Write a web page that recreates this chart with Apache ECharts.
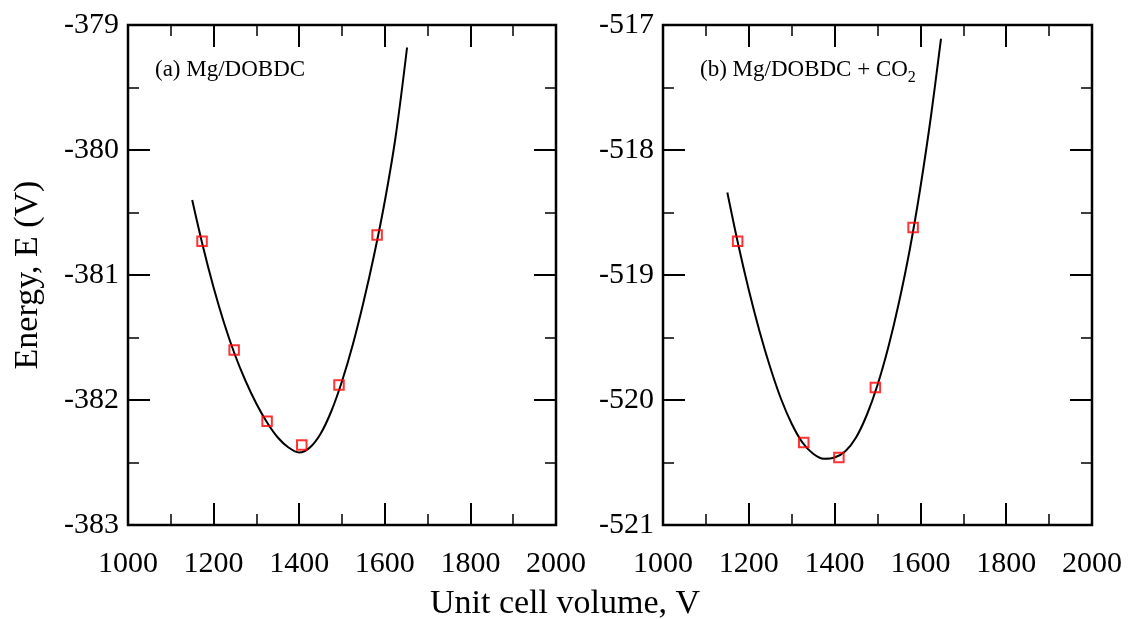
<!DOCTYPE html>
<html>
<head>
<meta charset="utf-8">
<script src="https://cdn.jsdelivr.net/npm/echarts@6/dist/echarts.min.js"></script>
<style>
html,body{margin:0;padding:0;background:#fff;}
#chart{width:1129px;height:619px;}
</style>
</head>
<body>
<div id="chart"></div>
<script>
// ---- data ----
const xTicks = [1000, 2000, 200];          // min, max, interval (volume)
const yTicksA = [-383, -379, 1];           // min, max, interval (panel a)
const yTicksB = [-521, -517, 1];           // min, max, interval (panel b)

const pointsA_V = [1173, 1248, 1325, 1406, 1493, 1582];
const pointsA_E = [-380.73, -381.60, -382.17, -382.36, -381.88, -380.68];

const curveA_V = [1150, 1175, 1200, 1225, 1250, 1275, 1300, 1325, 1350, 1375, 1400, 1425, 1450, 1475, 1500, 1525, 1550, 1575, 1600, 1625, 1652];
const curveA_E = [-380.40, -380.77, -381.10, -381.39, -381.64, -381.85, -382.03, -382.18, -382.30, -382.38, -382.42, -382.38, -382.27, -382.09, -381.85, -381.56, -381.22, -380.84, -380.41, -379.90, -379.18];

const pointsB_V = [1174, 1328, 1410, 1495, 1583];
const pointsB_E = [-518.73, -520.34, -520.46, -519.90, -518.62];

const curveB_V = [1150, 1175, 1200, 1225, 1250, 1275, 1300, 1325, 1350, 1375, 1400, 1425, 1450, 1475, 1500, 1525, 1550, 1575, 1600, 1625, 1648];
const curveB_E = [-518.34, -518.75, -519.12, -519.45, -519.74, -519.99, -520.19, -520.34, -520.43, -520.47, -520.46, -520.41, -520.30, -520.12, -519.88, -519.58, -519.22, -518.80, -518.30, -517.72, -517.11];

const zip = (a, b) => a.map((v, i) => [v, b[i]]);

const FONT = 'Liberation Serif';

function mkX(grid, pos, labels) {
  return {
    type: 'value', gridIndex: grid, position: pos,
    min: xTicks[0], max: xTicks[1], interval: xTicks[2],
    axisLine: { show: false },
    axisTick: { show: true, inside: true, length: 22, lineStyle: { color: '#000', width: 2 } },
    minorTick: { show: true, splitNumber: 2, length: 11, lineStyle: { color: '#000', width: 1.5 } },
    splitLine: { show: false },
    minorSplitLine: { show: false },
    axisLabel: { show: labels, margin: 24, color: '#000', fontFamily: FONT, fontSize: 30, formatter: v => String(v) }
  };
}
function mkY(grid, pos, labels, t) {
  return {
    type: 'value', gridIndex: grid, position: pos,
    min: t[0], max: t[1], interval: t[2],
    axisLine: { show: false },
    axisTick: { show: true, inside: true, length: 22, lineStyle: { color: '#000', width: 2 } },
    minorTick: { show: true, splitNumber: 2, length: 11, lineStyle: { color: '#000', width: 1.5 } },
    splitLine: { show: false },
    minorSplitLine: { show: false },
    axisLabel: { show: labels, margin: 9, color: '#000', fontFamily: FONT, fontSize: 30, formatter: v => String(v) }
  };
}

const chart = echarts.init(document.getElementById('chart'), null, { renderer: 'canvas' });
const option = {
  animation: false,
  backgroundColor: '#fff',
  grid: [
    { left: 128, top: 25, width: 428, height: 500, show: true, borderColor: '#000', borderWidth: 2.5, backgroundColor: 'transparent' },
    { left: 663, top: 25, width: 429, height: 500, show: true, borderColor: '#000', borderWidth: 2.5, backgroundColor: 'transparent' }
  ],
  xAxis: [mkX(0, 'bottom', true), mkX(0, 'top', false), mkX(1, 'bottom', true), mkX(1, 'top', false)],
  yAxis: [mkY(0, 'left', true, yTicksA), mkY(0, 'right', false, yTicksA), mkY(1, 'left', true, yTicksB), mkY(1, 'right', false, yTicksB)],
  series: [
    { type: 'line', xAxisIndex: 0, yAxisIndex: 0, data: zip(curveA_V, curveA_E), smooth: 0.35, showSymbol: false,
      lineStyle: { color: '#000', width: 2 }, z: 2 },
    { type: 'scatter', xAxisIndex: 0, yAxisIndex: 0, data: zip(pointsA_V, pointsA_E), symbol: 'rect', symbolSize: 9.5,
      itemStyle: { color: 'rgba(255,255,255,0)', borderColor: '#ff0000', borderWidth: 2 }, z: 3 },
    { type: 'line', xAxisIndex: 2, yAxisIndex: 2, data: zip(curveB_V, curveB_E), smooth: 0.35, showSymbol: false,
      lineStyle: { color: '#000', width: 2 }, z: 2 },
    { type: 'scatter', xAxisIndex: 2, yAxisIndex: 2, data: zip(pointsB_V, pointsB_E), symbol: 'rect', symbolSize: 9.5,
      itemStyle: { color: 'rgba(255,255,255,0)', borderColor: '#ff0000', borderWidth: 2 }, z: 3 }
  ],
  graphic: [
    { type: 'text', left: 155, top: 58, style: { text: '(a) Mg/DOBDC', font: '23px "Liberation Serif"', fill: '#000' } },
    { type: 'text', left: 700, top: 58, style: {
        text: '{n|(b) Mg/DOBDC + CO}{s|2}',
        rich: { n: { font: '23px "Liberation Serif"', fill: '#000', verticalAlign: 'top' },
                s: { font: '16px "Liberation Serif"', fill: '#000', padding: [12, 0, 0, 0] } } } },
    { type: 'text', x: 28, y: 275, rotation: Math.PI / 2,
      style: { text: 'Energy, E (V)', font: '34px "Liberation Serif"', fill: '#000', align: 'center', verticalAlign: 'middle' } },
    { type: 'text', x: 565, y: 604,
      style: { text: 'Unit cell volume, V', font: '34px "Liberation Serif"', fill: '#000', align: 'center', verticalAlign: 'middle' } }
  ]
};
chart.setOption(option);
</script>
</body>
</html>
